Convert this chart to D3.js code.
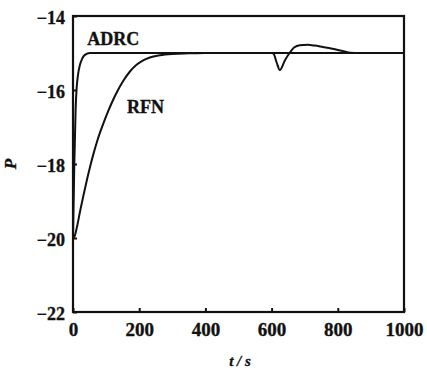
<!DOCTYPE html>
<html><head><meta charset="utf-8">
<script src="https://cdn.jsdelivr.net/npm/d3@7"></script>
<style>
html,body{margin:0;padding:0;background:#fff;}
svg text{font-family:"Liberation Serif","Times New Roman",serif;font-weight:bold;fill:#111;stroke:#111;stroke-width:0.35px;}
</style></head>
<body><svg id="c" width="427" height="371"></svg>
<script>
// ---- data ----
const adrcT = [0, 4, 8, 11, 15, 21, 28, 36, 51, 600, 606, 615, 625, 640, 656, 668, 685, 710, 730, 755, 780, 807, 837, 870, 1000];
const adrcP = [-20, -18, -16.5, -15.95, -15.6, -15.32, -15.15, -15.05, -15.0, -15.0, -15.02, -15.25, -15.46, -15.2, -14.98, -14.85, -14.79, -14.78, -14.8, -14.84, -14.88, -14.93, -14.99, -15.0, -15.0];
const rfnT = [0, 5, 12, 22, 32, 42, 52, 62, 72, 82, 91, 106, 121, 136, 152, 172, 192, 212, 232, 262, 300, 350, 400, 1000];
const rfnP = [-20.0, -19.95, -19.7, -19.25, -18.83, -18.43, -18.06, -17.72, -17.41, -17.14, -16.92, -16.58, -16.27, -16.0, -15.75, -15.5, -15.32, -15.2, -15.12, -15.06, -15.025, -15.01, -15.0, -15.0];
const xTicks = [0, 200, 400, 600, 800, 1000];
const yTicks = [-22, -20, -18, -16, -14];
const seriesNames = ["ADRC", "RFN"];
const xTitle = "t / s";
const yTitle = "P";

const svg = d3.select("#c");
const x = d3.scaleLinear().domain([0, 1000]).range([73, 404]);
const y = d3.scaleLinear().domain([-22, -14]).range([312, 16]);

// frame
svg.append("rect").attr("x", x(0)).attr("y", y(-14))
  .attr("width", x(1000) - x(0)).attr("height", y(-22) - y(-14))
  .attr("fill", "none").attr("stroke", "#111").attr("stroke-width", 2.2);

// axes with inward ticks
const xAxis = svg.append("g").attr("transform", `translate(0,${y(-22)})`)
  .call(d3.axisBottom(x).tickValues(xTicks).tickSize(-4).tickPadding(9).tickFormat(d3.format("d")));
xAxis.select(".domain").remove();
xAxis.selectAll("line").attr("stroke", "#111").attr("stroke-width", 2);
xAxis.selectAll("text").attr("font-size", 19).attr("fill", "#111")
  .attr("dy", null).attr("y", 24);

const yAxis = svg.append("g").attr("transform", `translate(${x(0)},0)`)
  .call(d3.axisLeft(y).tickValues(yTicks).tickSize(-4).tickPadding(8)
    .tickFormat(d => d < 0 ? "\u2212" + Math.abs(d) : d));
yAxis.select(".domain").remove();
yAxis.selectAll("line").attr("stroke", "#111").attr("stroke-width", 2);
yAxis.selectAll("text").attr("font-size", 18).attr("fill", "#111")
  .attr("dy", null).attr("y", 7);

// lines
const line = d3.line().x(d => x(d[0])).y(d => y(d[1])).curve(d3.curveMonotoneX);
const adrc = adrcT.map((t, i) => [t, adrcP[i]]);
const rfn = rfnT.map((t, i) => [t, rfnP[i]]);
[rfn, adrc].forEach(data => {
  svg.append("path").datum(data).attr("d", line)
    .attr("fill", "none").attr("stroke", "#111").attr("stroke-width", 2)
    .attr("stroke-linejoin", "round");
});

// series labels
svg.append("text").attr("x", x(43)).attr("y", y(-14.79)).attr("font-size", 18).text(seriesNames[0]);
svg.append("text").attr("x", x(163)).attr("y", y(-16.62)).attr("font-size", 18).text(seriesNames[1]);

// axis titles
svg.append("text").attr("x", 240).attr("y", 366).attr("text-anchor", "middle")
  .attr("font-size", 15).attr("font-style", "italic").text(xTitle);
svg.append("text").attr("transform", "translate(16,164) rotate(-90)").attr("text-anchor", "middle")
  .attr("font-size", 17).attr("font-style", "italic").text(yTitle);
</script></body></html>
